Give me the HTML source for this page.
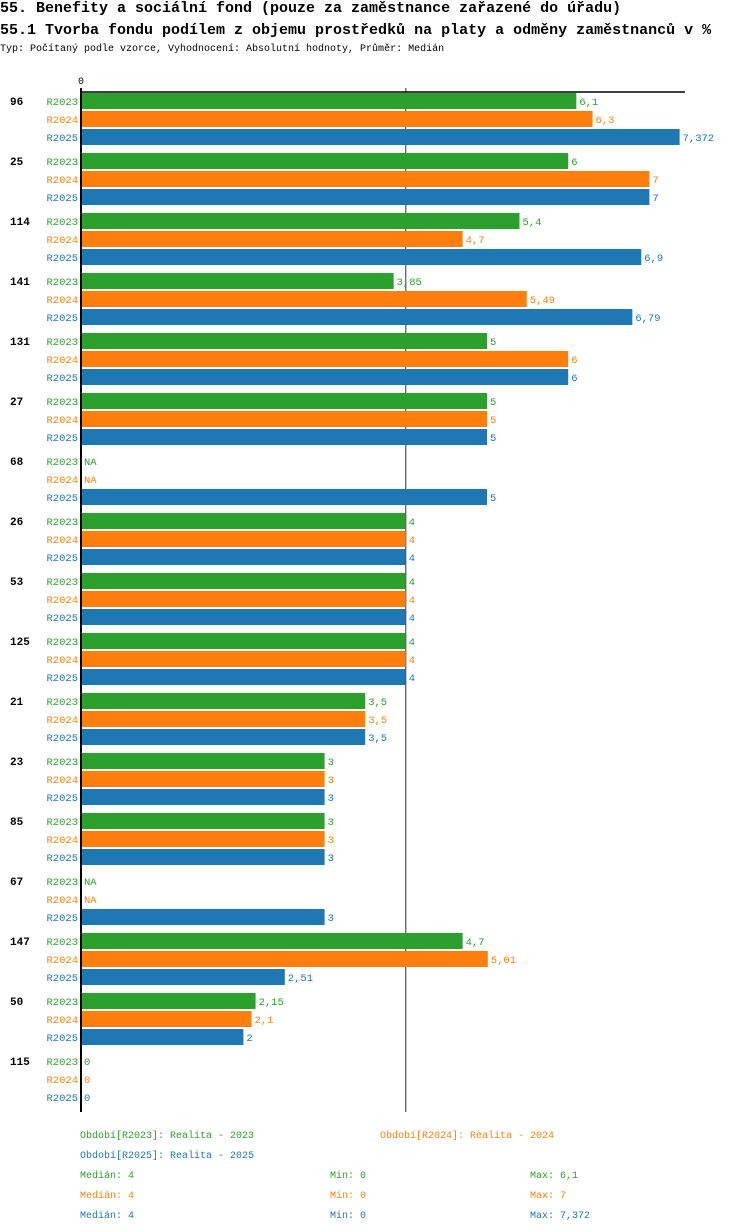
<!DOCTYPE html>
<html><head><meta charset="utf-8"><style>
body{margin:0;background:#fff;width:750px;height:1232px;overflow:hidden;font-family:"Liberation Mono",monospace;}
.t{position:absolute;left:0;font-weight:bold;font-size:15px;white-space:nowrap;color:#000}
.s{position:absolute;left:0;font-size:10px;white-space:nowrap}
svg text{font-family:"Liberation Mono",monospace}
</style></head><body>
<div class="t" style="top:0px">55. Benefity a sociální fond (pouze za zaměstnance zařazené do úřadu)</div>
<div class="t" style="top:22px">55.1 Tvorba fondu podílem z objemu prostředků na platy a odměny zaměstnanců v %</div>
<div class="s" style="top:44px">Typ: Počítaný podle vzorce, Vyhodnocení: Absolutní hodnoty, Průměr: Medián</div>
<svg id="c" width="750" height="1232" style="position:absolute;left:0;top:0"></svg>
<script>
const categories=["96","25","114","141","131","27","68","26","53","125","21","23","85","67","147","50","115"];
const r2023=[6.1,6,5.4,3.85,5,5,null,4,4,4,3.5,3,3,null,4.7,2.15,0];
const r2024=[6.3,7,4.7,5.49,6,5,null,4,4,4,3.5,3,3,null,5.01,2.1,0];
const r2025=[7.372,7,6.9,6.79,6,5,5,4,4,4,3.5,3,3,3,2.51,2,0];
const seriesNames=["R2023","R2024","R2025"];
const colors=["#2ca02c","#ff7f0e","#1f77b4"];
const medianValue=4;
const NS="http://www.w3.org/2000/svg";
const svg=document.getElementById('c');
const x0=81,scale=81.2;
const xs=v=>x0+v*scale;
const gy=i=>93+i*60;
function mk(t,a,p){const e=document.createElementNS(NS,t);for(const k in a)e.setAttribute(k,a[k]);(p||svg).appendChild(e);return e;}
const fmt=v=>String(v).replace('.',',');
const series=[r2023,r2024,r2025];
const ml=mk('line',{x1:xs(medianValue),x2:xs(medianValue),y1:88,y2:1112,stroke:'#333','stroke-width':1});


categories.forEach((c,i)=>{
  const y=gy(i);
  const g=mk('text',{x:10,y:y+12,'font-size':11,'font-weight':'bold',fill:'#000'});g.textContent=c;
  
  
  series.forEach((s,j)=>{
    const by=y+j*18,v=s[i];
    const l=mk('text',{x:78,y:by+12,'font-size':10.5,fill:colors[j],'text-anchor':'end'});l.textContent=seriesNames[j];
    
    
    if(v!==null&&v>0){
      const r=mk('rect',{x:x0+1,y:by,width:xs(v)-x0-1,height:16,fill:colors[j]});
      
      
    }
    const tv=mk('text',{x:(v?xs(v):x0)+3,y:by+12,'font-size':10.5,fill:colors[j]});
    tv.textContent=v===null?'NA':fmt(v);
    
    
  });
});
const ax=mk('line',{x1:x0,x2:x0,y1:88,y2:1112,stroke:'#000','stroke-width':2});


const tl=mk('line',{x1:x0,x2:685,y1:92,y2:92,stroke:'#000','stroke-width':1.5});


const z=mk('text',{x:x0,y:84,'font-size':10,'text-anchor':'middle',fill:'#000'});z.textContent='0';


const leg=[["Období[R2023]: Realita - 2023",80,1138,0],["Období[R2024]: Realita - 2024",380,1138,1],["Období[R2025]: Realita - 2025",80,1158,2]];
leg.forEach(a=>{const t=mk('text',{x:a[1],y:a[2],'font-size':10,fill:colors[a[3]]});t.textContent=a[0];
  
  });
const maxs=["6,1","7","7,372"];
[0,1,2].forEach(j=>{const y=1178+j*20;
  [["Medián: 4",80],["Min: 0",330],["Max: "+maxs[j],530]].forEach(a=>{const t=mk('text',{x:a[1],y:y,'font-size':10,fill:colors[j]});t.textContent=a[0];
  
  });
});
</script>
</body></html>
